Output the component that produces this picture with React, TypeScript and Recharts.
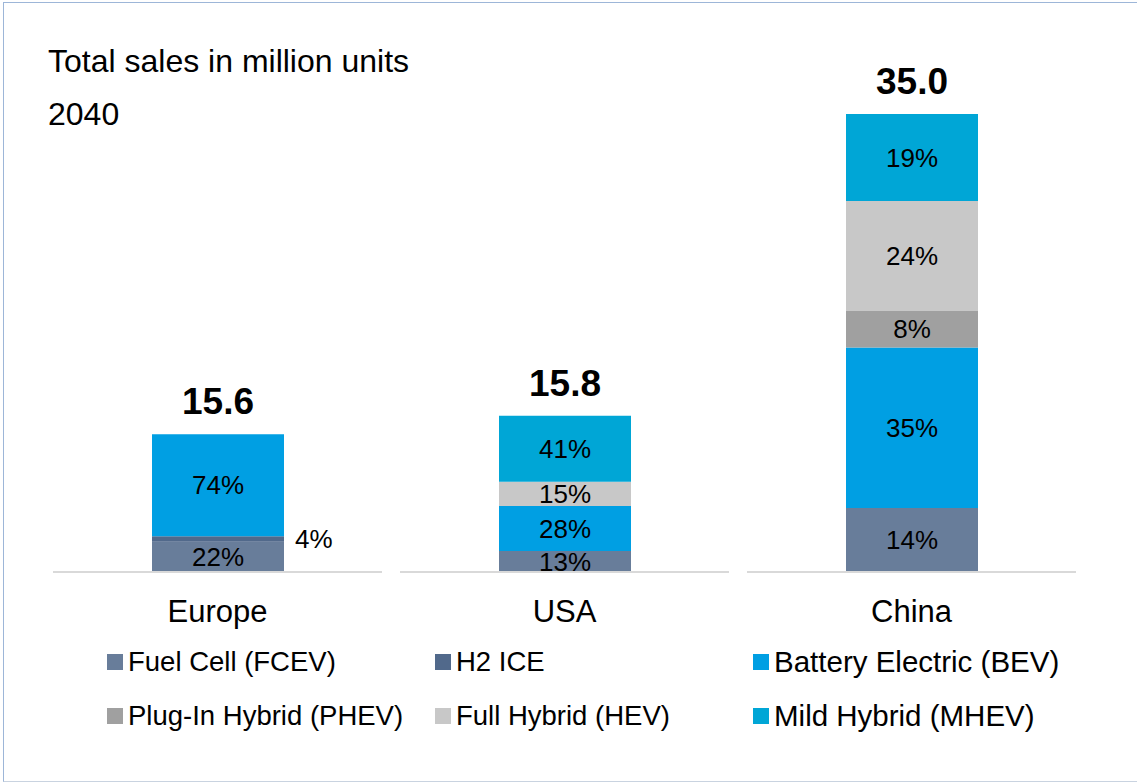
import { BarChart, Bar, XAxis, YAxis, LabelList } from "recharts";

const categories = ["Europe", "USA", "China"];
const totals = [15.6, 15.8, 35.0];
// bar heights as drawn in the reference, % of the tallest bar (the original is not to scale)
const drawnHeight = [30.1, 34.1, 100];

// shares per region, in %
const fcev = [22, 13, 14];
const h2ice = [4, 0, 0];
const bev = [74, 28, 35];
const phev = [0, 0, 8];
const hev = [0, 15, 24];
const mhev = [0, 41, 19];

const seriesKeys = ["fcev", "h2ice", "bev", "phev", "hev", "mhev"];
const seriesNames = [
  "Fuel Cell (FCEV)",
  "H2 ICE",
  "Battery Electric (BEV)",
  "Plug-In Hybrid (PHEV)",
  "Full Hybrid (HEV)",
  "Mild Hybrid (MHEV)",
];
const seriesColors = ["#687d9a", "#51698b", "#009fe3", "#a0a0a0", "#c8c8c8", "#00a6d6"];

const shares = [fcev, h2ice, bev, phev, hev, mhev];

const data = categories.map((name, i) => {
  const sum = shares.reduce((s, arr) => s + arr[i], 0);
  let topIdx = 0;
  shares.forEach((arr, j) => {
    if (arr[i] > 0) topIdx = j;
  });
  const row: Record<string, number | string | null> = { name };
  seriesKeys.forEach((k, j) => {
    row[k] = (shares[j][i] / sum) * drawnHeight[i];
    row[k + "Pct"] = shares[j][i];
    // total is printed above the topmost non-empty segment
    row[k + "Top"] = j === topIdx ? totals[i].toFixed(1) : null;
  });
  return row;
});

const FONT = '"Liberation Sans", Arial, sans-serif';

const SegmentLabel = (props: any) => {
  const { x, y, width, height, value } = props;
  if (!value) return null;
  const thin = height < 12;
  return (
    <text
      x={thin ? x + width + 11 : x + width / 2}
      y={y + height / 2}
      textAnchor={thin ? "start" : "middle"}
      dominantBaseline="central"
      fontFamily={FONT}
      fontSize={26}
      fill="#000"
    >
      {value}%
    </text>
  );
};

const TotalLabel = (props: any) => {
  const { x, y, width, value } = props;
  if (!value) return null;
  return (
    <text
      x={x + width / 2}
      y={y - 20}
      textAnchor="middle"
      fontFamily={FONT}
      fontSize={37}
      fontWeight="bold"
      fill="#000"
    >
      {value}
    </text>
  );
};

const BAND = 347;

const CategoryTick = (props: any) => {
  const { x, y, payload } = props;
  return (
    <g>
      <line x1={x - BAND / 2 + 9} x2={x + BAND / 2 - 9} y1={y} y2={y} stroke="#d9d9d9" strokeWidth={2} />
      <text x={x} y={y + 50} textAnchor="middle" fontFamily={FONT} fontSize={31} fill="#000">
        {payload.value}
      </text>
    </g>
  );
};

const legendLeft = [107, 435, 753];
const legendFont = [27.5, 27.5, 29.5];

const LegendBox = () => (
  <div style={{ position: "absolute", left: 0, top: 635, width: 1137, height: 108, fontFamily: FONT }}>
    {seriesNames.map((n, i) => (
      <div
        key={n}
        style={{
          position: "absolute",
          left: legendLeft[i % 3],
          top: Math.floor(i / 3) * 54,
          height: 54,
          display: "flex",
          alignItems: "center",
          whiteSpace: "nowrap",
          color: "#000",
          fontSize: legendFont[i % 3],
        }}
      >
        <span
          style={{
            display: "inline-block",
            width: 16,
            height: 16,
            background: seriesColors[i],
            marginRight: 5,
          }}
        />
        {n}
      </div>
    ))}
  </div>
);

export default function App() {
  return (
    <div style={{ position: "absolute", left: 0, top: 0, width: 1137, height: 784, background: "#fff", overflow: "hidden" }}>
      <div
        style={{
          position: "absolute",
          left: 3,
          top: 2,
          width: 1140,
          height: 778,
          borderTop: "1px solid #9db6d8",
          borderLeft: "1px solid #9db6d8",
          borderBottom: "1px solid #c9d3e0",
        }}
      />
      <div style={{ position: "absolute", left: 48, top: 42, fontFamily: FONT, fontSize: 32, lineHeight: "38px" }}>
        Total sales in million units
      </div>
      <div style={{ position: "absolute", left: 48, top: 95, fontFamily: FONT, fontSize: 32, lineHeight: "38px" }}>
        2040
      </div>
      <div style={{ position: "absolute", left: 0, top: 0 }}>
        <BarChart
          width={1137}
          height={784}
          data={data}
          margin={{ top: 114, right: 52, bottom: 152, left: 44 }}
          barSize={132}
        >
          <XAxis
            dataKey="name"
            axisLine={false}
            tickLine={false}
            tickSize={0}
            tickMargin={0}
            interval={0}
            height={60}
            tick={<CategoryTick />}
          />
          <YAxis hide domain={[0, 100]} />
          {seriesKeys.map((k, j) => (
            <Bar key={k} dataKey={k} name={seriesNames[j]} stackId="a" fill={seriesColors[j]} isAnimationActive={false}>
              <LabelList dataKey={k + "Pct"} content={<SegmentLabel />} />
              <LabelList dataKey={k + "Top"} content={<TotalLabel />} />
            </Bar>
          ))}
        </BarChart>
      </div>
      <LegendBox />
    </div>
  );
}
